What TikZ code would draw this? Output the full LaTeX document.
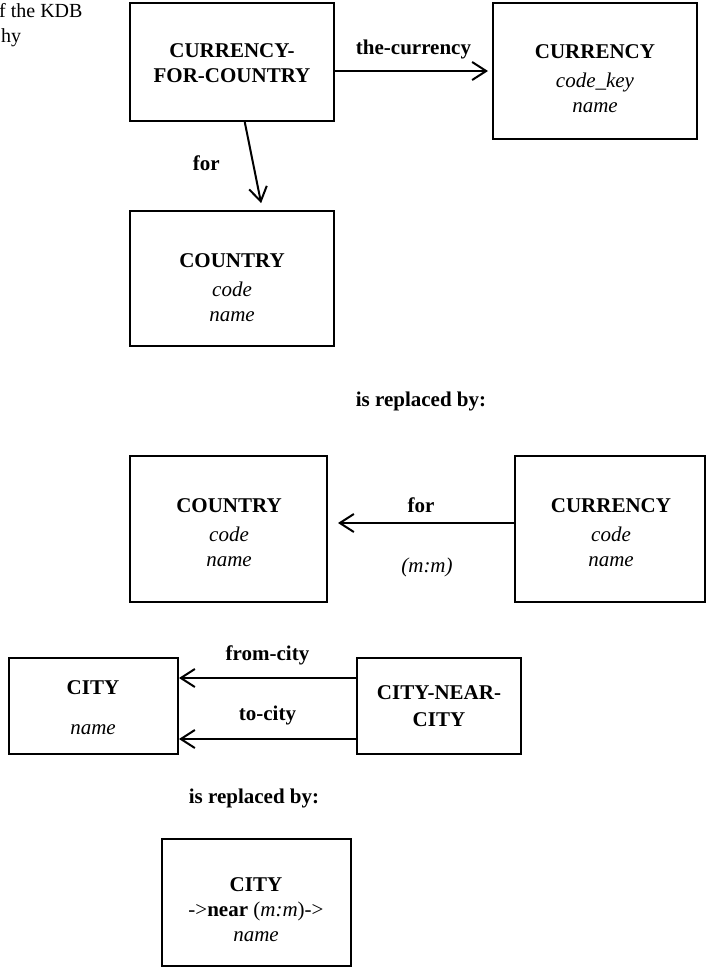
\documentclass[tikz,border=0pt]{standalone}
\usepackage{fontspec}
\setmainfont{Liberation Serif}
\usetikzlibrary{arrows.meta}

\begin{document}
\begin{tikzpicture}[x=1pt,y=-1pt,
  box/.style={draw, line width=2pt, inner sep=0pt},
  txt/.style={align=center, inner sep=0pt, font=\fontsize{21}{25}\selectfont},
  lbl/.style={font=\fontsize{21}{25}\selectfont\bfseries, inner sep=0pt},
  card/.style={font=\fontsize{21}{25}\selectfont\itshape, inner sep=0pt},
  capt/.style={font=\fontsize{20}{24}\selectfont, inner sep=0pt, anchor=base west},
  rel/.style={line width=2pt,
    -{Straight Barb[length=14pt,width=18pt,line width=2pt]}},
]
\useasboundingbox (0,0) rectangle (706,967);

% caption fragments at the upper left
\node[capt] (cap1) at (-1,17) {f the KDB};
\node[capt] (cap2) at (1,42) {hy};

% ---- first schema ----
\node[box, minimum width=204pt, minimum height=118pt] (cfc) at (232,62) {};
\node[txt] (cfct) at (232,63.5) {\textbf{CURRENCY-}\\\textbf{FOR-COUNTRY}};

\node[box, minimum width=204pt, minimum height=136pt] (cur1) at (595,71) {};
\node[txt] (cur1t) at (595,79)
  {\textbf{CURRENCY}\\[4pt]\textit{code\_key}\\\textit{name}};

\node[box, minimum width=204pt, minimum height=135pt] (ctry1) at (232,278.5) {};
\node[txt] (ctry1t) at (232,288)
  {\textbf{COUNTRY}\\[4pt]\textit{code}\\\textit{name}};

\draw[rel, shorten >=4pt] (cfc.east |- 0,71) --
  node[lbl, above=11pt] {the-currency} (cur1.west |- 0,71);
\draw[rel, shorten >=7pt] (cfc.-78.5) --
  node[lbl, left=33pt, yshift=3pt] {for} (ctry1.66.8);

\node[lbl] (rep1) at (421,401) {is replaced by:};

% ---- replacement ----
\node[box, minimum width=197pt, minimum height=146pt] (ctry2) at (228.5,529) {};
\node[txt] (ctry2t) at (229,533)
  {\textbf{COUNTRY}\\[4pt]\textit{code}\\\textit{name}};

\node[box, minimum width=190pt, minimum height=146pt] (cur2) at (610,529) {};
\node[txt] (cur2t) at (611,533)
  {\textbf{CURRENCY}\\[4pt]\textit{code}\\\textit{name}};

\draw[rel, shorten >=10pt] (cur2.west |- 0,523) --
  node[lbl, above=9pt] {for}
  node[card, below=34pt, xshift=6pt] {(m:m)} (ctry2.east |- 0,523);

% ---- second schema ----
\node[box, minimum width=169pt, minimum height=96pt] (city1) at (93.5,706) {};
\node[txt] (city1t) at (93,708) {\textbf{CITY}\\[15pt]\textit{name}};

\node[box, minimum width=164pt, minimum height=96pt] (cnc) at (439,706) {};
\node[txt] (cnct) at (439,706.5) {\textbf{CITY-NEAR-}\\[2pt]\textbf{CITY}};

\draw[rel] (cnc.west |- 0,678) --
  node[lbl, above=11.5pt] {from-city} (city1.east |- 0,678);
\draw[rel] (cnc.west |- 0,739) --
  node[lbl, above=12.5pt] {to-city} (city1.east |- 0,739);

\node[lbl] (rep2) at (254,798) {is replaced by:};

% ---- replacement ----
\node[box, minimum width=189pt, minimum height=127pt] (city2) at (256.5,902.5) {};
\node[txt] (city2t) at (256,910)
  {\textbf{CITY}\\->\textbf{near} (\textit{m:m})->\\\textit{name}};
\end{tikzpicture}
\end{document}
